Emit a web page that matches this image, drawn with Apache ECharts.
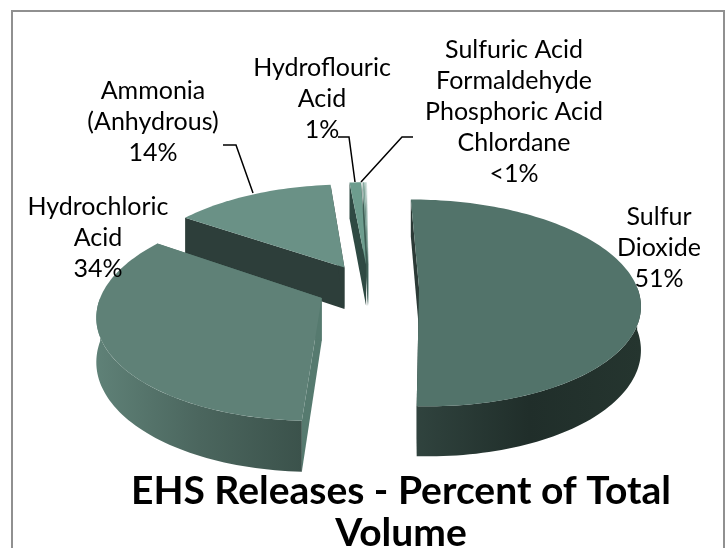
<!DOCTYPE html>
<html>
<head>
<meta charset="utf-8">
<style>html,body{margin:0;padding:0;background:#fff}#chart{width:727px;height:548px}</style>
<script src="https://cdn.jsdelivr.net/npm/echarts@6/dist/echarts.min.js"></script>
</head>
<body>
<div id="chart"></div>
<script>
// Share of total release volume per chemical, clockwise from twelve o'clock.
const chemicals = ['Sulfur Dioxide', 'Hydrochloric Acid', 'Ammonia (Anhydrous)', 'Hydroflouric Acid',
  'Sulfuric Acid', 'Formaldehyde', 'Phosphoric Acid', 'Chlordane'];
const percents = [51, 34, 14, 1, 0.14, 0.1, 0.06, 0.03];
const explodes = [50, 52, 50, 50, 50, 50, 50, 50];
const topColors = ['#52736a', '#5f8177', '#6a9186', '#6d9d8e', '#86aca0', '#a9c4bc', '#c6d8d3', '#e0eae7'];
const cutColors = ['#2b3a36', '#567a6f', '#2d3e3a', '#2f4a43', '#3f5f56', '#6b8a81', '#a5bbb5', '#d5e0dd'];
const wallStops = [
  ['#30433e', '#202e2a', '#25352f'],
  ['#5f8177', '#4b665e', '#3b524b']
];
const drawOrder = [7, 6, 5, 4, 3, 2, 1, 0];

const labelTexts = [
  'Sulfur\nDioxide\n51%',
  'Hydrochloric\nAcid\n34%',
  'Ammonia\n(Anhydrous)\n14%',
  'Hydroflouric\nAcid\n1%',
  'Sulfuric Acid\nFormaldehyde\nPhosphoric Acid\nChlordane\n<1%'
];
const labelCentres = [[659, 248], [98, 238], [153, 122], [322, 99], [514, 112]];
const leaderLines = [
  [[223, 145], [236, 145], [253, 193]],
  [[338, 137], [349, 137], [355, 182]],
  [[413, 137], [402, 137], [361, 182]]
];
const titleLines = 'EHS Releases - Percent of Total\nVolume';

// Projection of the tilted disc: viewing centre, radius, tilt, perspective, thickness.
const view = { x: 369, y: 287, radius: 218, tilt: 0.463, persp: 0.15 / 218, thick: 42.5, start: -0.5 };

const total = percents.reduce((a, b) => a + b, 0);
const spans = [];
percents.reduce((acc, p) => {
  const end = acc + p / total * 360;
  spans.push([acc, end]);
  return end;
}, view.start);

function project(u, v, lower) {
  const s = 1 / (1 - view.persp * v);
  return [view.x + u * s, view.y + (view.tilt * v + (lower ? view.thick : 0)) * s];
}
function rimPoint(deg, ox, oy, lower) {
  const t = deg * Math.PI / 180;
  return project(ox + Math.sin(t) * view.radius, oy - Math.cos(t) * view.radius, lower);
}
function arcPoints(a, b, ox, oy, lower) {
  const n = Math.max(2, Math.ceil(Math.abs(b - a) / 1.5));
  const pts = [];
  for (let i = 0; i <= n; i++) pts.push(rimPoint(a + (b - a) * i / n, ox, oy, lower));
  return pts;
}
function cutFace(deg, ox, oy, color) {
  return {
    type: 'polygon',
    shape: { points: [project(ox, oy, false), rimPoint(deg, ox, oy, false), rimPoint(deg, ox, oy, true), project(ox, oy, true)] },
    style: { fill: color }
  };
}
function wallGradient(stops) {
  return new echarts.graphic.LinearGradient(0, 0, 1, 0, stops.map((c, i) => ({ offset: i / (stops.length - 1), color: c })));
}

function renderSlice(params, api) {
  const i = api.value(0);
  const [a, b] = spans[i];
  const mid = (a + b) / 2 * Math.PI / 180;
  const ox = Math.sin(mid) * explodes[i];
  const oy = -Math.cos(mid) * explodes[i];
  const children = [cutFace(a, ox, oy, cutColors[i]), cutFace(b, ox, oy, cutColors[i])];
  // Only the near half of the rim shows a side wall.
  const wa = Math.max(a, 90), wb = Math.min(b, 270);
  if (wb > wa) {
    const top = arcPoints(wa, wb, ox, oy, false);
    const bottom = arcPoints(wa, wb, ox, oy, true).reverse();
    children.push({ type: 'polygon', shape: { points: top.concat(bottom) }, style: { fill: wallGradient(wallStops[i]) } });
  }
  children.push({
    type: 'polygon',
    shape: { points: [project(ox, oy, false)].concat(arcPoints(a, b, ox, oy, false)) },
    style: { fill: topColors[i] }
  });
  return { type: 'group', children };
}

const labelFont = 'Lato, "Open Sans", sans-serif';
const labelEls = labelTexts.map((text, i) => ({
  type: 'text', x: labelCentres[i][0], y: labelCentres[i][1], z: 20,
  style: { text, fill: '#000', font: '25px ' + labelFont, lineHeight: 31, align: 'center', verticalAlign: 'middle' }
}));
const leaderEls = leaderLines.map(points => ({
  type: 'polyline', z: 15, shape: { points },
  style: { stroke: '#000', lineWidth: 1.5, fill: null }
}));

const chart = echarts.init(document.getElementById('chart'), null, { renderer: 'canvas' });
chart.setOption({
  animation: false,
  backgroundColor: '#fff',
  title: {
    text: titleLines, left: 396, top: 465, textAlign: 'center',
    textStyle: { fontFamily: labelFont, fontWeight: 'bold', fontSize: 39, lineHeight: 42, color: '#000' }
  },
  series: [{
    type: 'custom',
    coordinateSystem: 'none',
    renderItem: renderSlice,
    data: drawOrder.map(i => [i, percents[i]]),
    silent: true
  }],
  graphic: [{
    type: 'rect', z: 1, silent: true,
    shape: { x: 12, y: 11, width: 712, height: 560 },
    style: { fill: null, stroke: '#909090', lineWidth: 2 }
  }].concat(leaderEls, labelEls)
});
</script>
</body>
</html>
